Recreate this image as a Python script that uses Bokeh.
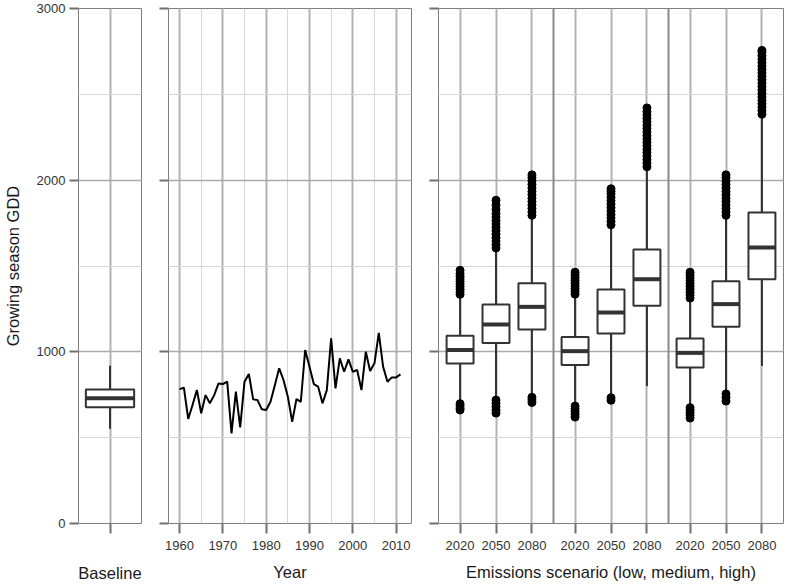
from bokeh.plotting import figure
from bokeh.layouts import row
from bokeh.models import Range1d, SingleIntervalTicker, FixedTicker, Span
from bokeh.embed import file_html
from bokeh.resources import INLINE

FONT = "Liberation Sans"

# ---------------- data ----------------
years = list(range(1960, 2012))
gdd = [783, 791, 609, 690, 778, 642, 748, 700, 748, 816,
       812, 826, 525, 768, 560, 826, 871, 723, 719, 665,
       661, 709, 806, 904, 836, 739, 593, 725, 709, 1010,
       913, 812, 797, 700, 777, 1078, 787, 962, 884, 956,
       884, 894, 777, 1000, 888, 933, 1110, 913, 826, 851,
       851, 869]

# baseline box (lower whisker, q1, median, q3, upper whisker)
base_lo, base_q1, base_med, base_q3, base_hi = 552, 677, 729, 780, 919

scenarios = ["low", "medium", "high"]
periods = ["2020", "2050", "2080"]
q1 = [932, 1051, 1130, 923, 1107, 1268, 909, 1146, 1423]
med = [1010, 1159, 1262, 1004, 1229, 1423, 994, 1278, 1608]
q3 = [1093, 1276, 1400, 1087, 1363, 1596, 1078, 1411, 1811]
whisk_lo = [700, 725, 740, 690, 740, 800, 680, 765, 918]
whisk_hi = [1330, 1600, 1790, 1330, 1735, 2070, 1310, 1790, 2375]
out_hi = [
    [1335, 1350, 1365, 1380, 1395, 1410, 1425, 1440, 1455, 1475],
    [1605, 1625, 1645, 1665, 1685, 1705, 1725, 1745, 1765, 1785, 1805, 1830, 1855, 1883],
    [1795, 1815, 1835, 1855, 1875, 1895, 1915, 1935, 1955, 1975, 1995, 2015, 2031],
    [1336, 1352, 1368, 1384, 1400, 1416, 1432, 1448, 1464],
    [1740, 1760, 1780, 1800, 1820, 1840, 1860, 1880, 1900, 1920, 1935, 1950],
    [2078, 2100, 2120, 2140, 2160, 2180, 2200, 2220, 2240, 2260, 2280, 2300, 2320,
     2340, 2360, 2380, 2400, 2421],
    [1313, 1330, 1347, 1364, 1381, 1398, 1415, 1432, 1448, 1464],
    [1795, 1815, 1835, 1855, 1875, 1895, 1915, 1935, 1955, 1975, 1995, 2015, 2031],
    [2384, 2405, 2425, 2445, 2465, 2485, 2505, 2525, 2545, 2565, 2585, 2605, 2625,
     2645, 2665, 2685, 2705, 2725, 2745, 2756],
]
out_lo = [
    [698, 685, 672, 661],
    [719, 700, 680, 660, 643],
    [735, 720, 705],
    [684, 668, 652, 636, 620],
    [733, 718],
    [],
    [675, 660, 645, 630, 614],
    [755, 735, 713],
    [],
]

# ---------------- helpers ----------------
H = 584
TOP, BOTTOM = 8, 61


def base_fig(width, min_left, min_right, xr, show_ylabels):
    p = figure(width=width, height=H, x_range=xr, y_range=Range1d(0, 3000),
               output_backend="svg", toolbar_location=None,
               min_border_left=min_left, min_border_right=min_right,
               min_border_top=TOP, min_border_bottom=BOTTOM)
    p.outline_line_color = "#7f7f7f"
    p.outline_line_width = 1
    p.background_fill_color = "white"
    p.border_fill_color = "white"
    yt = SingleIntervalTicker(interval=1000, num_minor_ticks=2)
    p.yaxis.ticker = yt
    p.ygrid.ticker = yt
    p.ygrid.grid_line_color = "#ababab"
    p.ygrid.grid_line_width = 1.5
    p.ygrid.minor_grid_line_color = "#d6d6d6"
    p.ygrid.minor_grid_line_width = 1
    for ax in (p.xaxis[0], p.yaxis[0]):
        ax.axis_line_color = None
        ax.major_tick_in = 0
        ax.major_tick_line_color = "#707070"
        ax.major_tick_line_width = 2
        ax.minor_tick_line_color = None
        ax.major_label_text_font = FONT
        ax.major_label_text_font_size = "13px"
        ax.major_label_text_color = "#333333"
        ax.axis_label_text_font = FONT
        ax.axis_label_text_font_size = "16.5px"
        ax.axis_label_text_font_style = "normal"
        ax.axis_label_text_color = "#1a1a1a"
    p.yaxis.major_tick_out = 9
    p.xaxis.major_tick_out = 10
    p.yaxis.major_label_standoff = 4
    p.xaxis.major_label_standoff = 7
    p.xaxis.axis_label_standoff = 10
    if not show_ylabels:
        p.yaxis.major_label_text_color = None
        p.yaxis.major_label_text_font_size = "1px"
        p.yaxis.major_label_standoff = 0
    return p


def draw_box(p, x, w, lo, a, m, b, hi):
    p.segment(x0=x, y0=b, x1=x, y1=hi, line_color="#333333", line_width=2)
    p.segment(x0=x, y0=a, x1=x, y1=lo, line_color="#333333", line_width=2)
    p.vbar(x=x, width=w, bottom=a, top=b, fill_color="white",
           line_color="#333333", line_width=2)
    p.segment(x0=[xi - w / 2 for xi in x], y0=m, x1=[xi + w / 2 for xi in x], y1=m,
              line_color="#333333", line_width=4)


# ---------------- panel 1: baseline ----------------
p1 = base_fig(151, 77, 10, Range1d(0.4, 1.6), True)
p1.yaxis.axis_label = "Growing season GDD"
p1.yaxis.axis_label_standoff = 12
p1.xaxis.axis_label = "Baseline"
xt1 = FixedTicker(ticks=[1])
p1.xaxis.ticker = xt1
p1.xgrid.ticker = xt1
p1.xaxis.major_label_text_color = None
p1.xaxis.axis_label_standoff = 30
p1.xgrid.grid_line_color = "#b3b3b3"
p1.xgrid.grid_line_width = 2
draw_box(p1, [1], 0.92, [base_lo], [base_q1], [base_med], [base_q3], [base_hi])

# ---------------- panel 2: observed years ----------------
p2 = base_fig(270, 17, 10, Range1d(1957.45, 2013.55), False)
p2.xaxis.axis_label = "Year"
xt2 = SingleIntervalTicker(interval=10, num_minor_ticks=2)
p2.xaxis.ticker = xt2
p2.xgrid.ticker = xt2
p2.xgrid.grid_line_color = "#b3b3b3"
p2.xgrid.grid_line_width = 2
p2.xgrid.minor_grid_line_color = "#d6d6d6"
p2.xgrid.minor_grid_line_width = 1
p2.line(years, gdd, line_color="black", line_width=2)

# ---------------- panel 3: scenarios ----------------
GAP = 0.2
pos = [round(g * (len(periods) + GAP) + c + 1, 2)
       for g in range(len(scenarios)) for c in range(len(periods))]
labels = [per for _ in scenarios for per in periods]
p3 = base_fig(364, 17, 2, Range1d(0.4, pos[-1] + 0.6), False)
p3.xaxis.axis_label = "Emissions scenario (low, medium, high)"
xt3 = FixedTicker(ticks=pos)
p3.xaxis.ticker = xt3
p3.xgrid.ticker = xt3
p3.xaxis.major_label_overrides = {pp: lab for pp, lab in zip(pos, labels)}
p3.xgrid.grid_line_color = "#b3b3b3"
p3.xgrid.grid_line_width = 2
for g in range(1, len(scenarios)):
    loc = (pos[g * 3 - 1] + pos[g * 3]) / 2
    p3.add_layout(Span(location=loc, dimension="height", line_color="#8a8a8a",
                       line_width=2, level="underlay"))
draw_box(p3, pos, 0.75, whisk_lo, q1, med, q3, whisk_hi)
ox, oy = [], []
for i in range(len(pos)):
    for v in out_hi[i] + out_lo[i]:
        ox.append(pos[i])
        oy.append(v)
p3.scatter(ox, oy, size=8, color="black")

layout = row(p1, p2, p3)
open("out.html", "w").write(file_html(layout, INLINE))
